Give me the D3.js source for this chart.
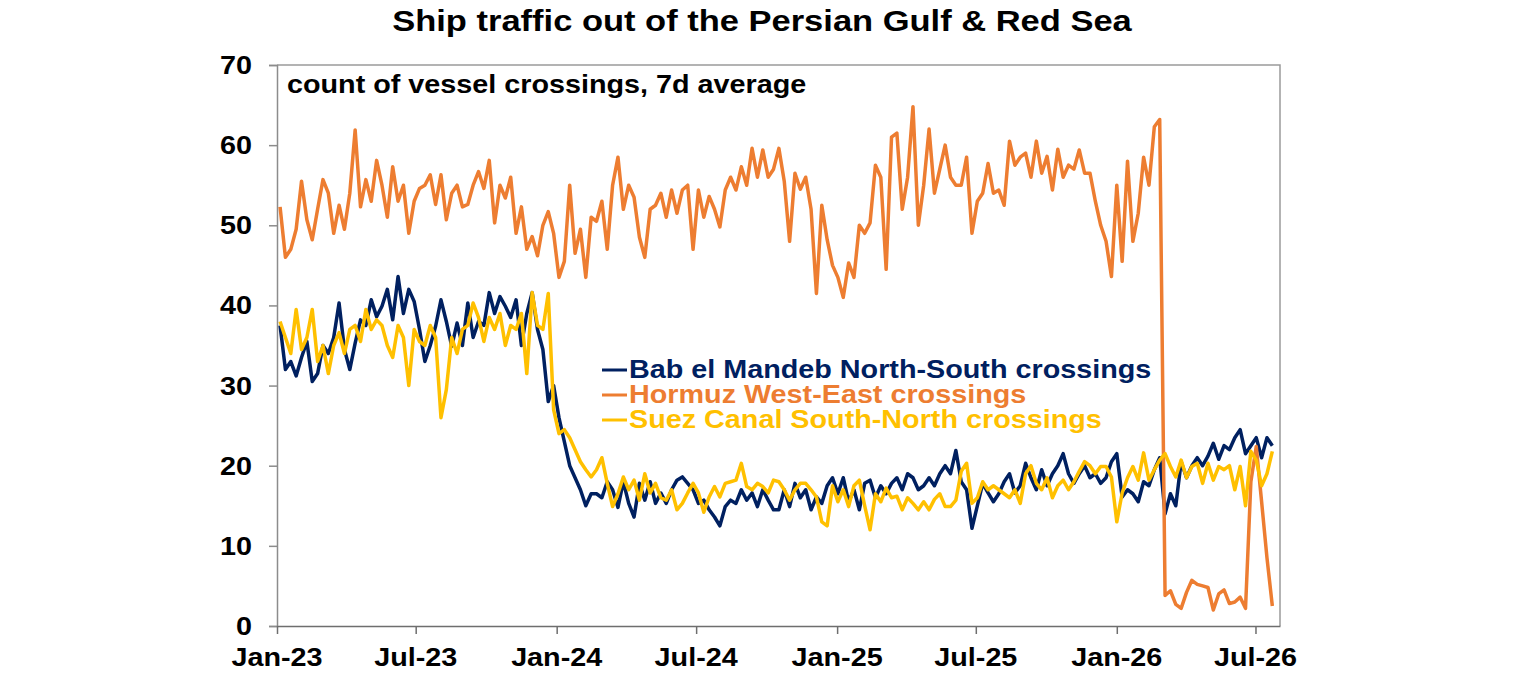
<!DOCTYPE html>
<html>
<head>
<meta charset="utf-8">
<script src="https://cdn.jsdelivr.net/npm/d3@7"></script>
<style>
  body { margin: 0; background: #fff; }
  text { font-family: "Liberation Sans", Arial, sans-serif; font-weight: bold; }
</style>
</head>
<body>
<div id="chart"></div>
<script>
// weekly readings (7d average), first point 5 Jan 2023
var startDate = "2023-01-05";
var stepDays = 7;

var babElMandeb = [
  37.5, 32, 33, 31.2, 33.5, 35.5, 30.5, 31.5, 35, 34,
  36, 40.3, 34.5, 32, 35.3, 38.2, 37.5, 40.7, 38.6, 39.9,
  42, 38.2, 43.6, 39, 42, 40.5, 37, 33, 35, 37.4,
  40.7, 38, 34.9, 37.8, 35, 40.3, 36, 38, 37.5, 41.6,
  39, 41.1, 39.9, 38.5, 40.7, 35, 39, 41.6, 37, 34.5, 28, 30, 26,
  23, 20, 18.5, 17, 15, 16.5, 16.5, 16, 18, 17,
  14.8, 18, 15.3, 13.6, 17.8, 15.7, 18, 15.3, 16.6, 15.3,
  17, 18.2, 18.6, 17.8, 17, 15.3, 15.7, 14.5, 13.6, 12.5,
  14.9, 15.7, 15.3, 17, 15.7, 16.6, 14.9, 17, 15.7, 14.5,
  14.5, 17, 14.9, 17.8, 16, 17, 14.5, 16.1, 15.3, 17.5,
  18.5, 16.5, 18.5, 15.5, 17, 14.5, 17.8, 18.2, 16, 17.5,
  16.5, 17.8, 18.5, 17, 19, 18.5, 17, 17.5, 18.5, 17.5,
  19, 20, 19, 21.9, 18, 17, 12.2, 15, 17.8, 16.6,
  15.5, 16.5, 18, 19, 16.6, 17.5, 20.3, 18.5, 17, 19.5,
  17.5, 19, 20, 21.5, 19, 17.8, 19, 20,
  18.5, 19, 17.8, 18.5, 20.5, 21.5, 16.1, 17, 16.5, 15.5,
  18, 17.5, 19.5, 21, 14, 16.5, 15, 20.5, 18.5, 20,
  21, 20, 21.2, 22.8, 20.8, 22.5, 22, 23.5, 24.5, 21.5,
  22.5, 23.5, 21, 23.5, 22.5
];

var hormuz = [
  52.3, 46, 47, 49.5, 55.5, 50.7, 48.2, 52, 55.7, 54,
  49, 52.5, 49.5, 54, 61.9, 52.3, 55.7, 53, 58.1, 55,
  51, 57.3, 53, 55, 49, 53, 54.6, 55, 56.3, 52.6,
  56.3, 50.7, 54, 55, 52.3, 52.6, 55, 56.7, 54.6, 58.1,
  50.3, 55, 53.4, 56, 49, 52.3, 47, 48.6, 46.2, 50,
  51.7, 49, 43.5, 45.5, 55, 46.5, 49.5, 43.5, 51, 50.5,
  53, 47, 55, 58.5, 52, 55, 53.5, 48.5, 46, 52,
  52.5, 54, 51, 54.4, 51.5, 54.4, 55, 47, 54.4, 51,
  53.6, 52, 49.8, 54.4, 56, 54.4, 57.3, 55, 59.6, 56,
  59.4, 56, 57, 59.6, 55.5, 48, 56.5, 54.5, 56, 52,
  41.5, 52.5, 48.2, 45, 43.5, 41, 45.3, 43.5, 50, 49,
  50.3, 57.5, 56, 44.5, 61, 61.5, 52, 56, 64.8, 50,
  55, 62, 54, 57, 60, 56, 55, 55, 58.5, 49,
  53, 54, 57.7, 54, 54.4, 52.5, 60.5, 57.5, 58.5, 59,
  56, 60.5, 56.5, 58.6, 54.4, 59.5, 56, 57.5, 57, 59.4,
  56.5, 56.5, 53, 50, 48, 43.6, 55, 45.5, 58, 48,
  51.5, 58.5, 55, 62.3, 63.2, 3.8, 4.4, 2.7, 2.2, 4.2,
  5.7, 5.2, 5, 4.8, 2, 4, 4.5, 2.8, 3, 3.6,
  2.2, 18, 22.4, 15.5, 8.5, 2.5
];

var suez = [
  38, 36, 34, 39.5, 34.5, 36, 39.5, 33, 35, 31.5,
  35, 36.6, 34, 37, 37.5, 35.5, 39.5, 37, 38.2, 37.5,
  35, 33.5, 37.5, 36, 30, 37, 35.5, 35, 37.5, 36,
  26, 29.5, 36, 34, 37, 37.5, 40.3, 38.5, 35.5, 38.5,
  37, 39, 35, 37.5, 37, 39, 31.5, 41.6, 37.5, 37,
  41.5, 27, 24, 24.5, 23.5, 22, 20.5, 19.5, 18.6, 19.5,
  21, 17.8, 14.9, 16.5, 18.6, 17, 18.2, 15.7, 19, 16.6,
  17.8, 16, 15.7, 17, 14.5, 15.3, 16.6, 17.8, 16.6, 14.2,
  16.1, 17.4, 16.1, 17.8, 18, 18.2, 20.3, 17.4, 17, 17.8,
  17.4, 16.6, 18.2, 18, 17, 15.7, 17, 17.8, 17.8, 17,
  16.1, 13, 12.5, 17.5, 15.5, 17, 14.9, 17.5, 18.2, 15,
  12, 16.5, 15.5, 17.2, 16, 16.2, 14.5, 16, 15.3, 14.5,
  15.5, 14.5, 15.8, 16.5, 14.9, 14.9, 15.7, 19.3, 20.3, 15.3,
  16, 18, 17, 17.5, 17, 16.5, 16, 17, 15.3, 19,
  20, 17.8, 17, 18.5, 16, 17.5, 18.2, 17, 18, 19.3,
  20.5, 20, 19, 19.9, 19.9, 18.6, 13, 16.6, 18.5, 19.9,
  18.2, 21.6, 18.2, 19.5, 20.7, 21.5, 19.9, 18.6, 20.7, 18.5,
  19.9, 20.3, 17.8, 20.3, 18.2, 19.9, 19.5, 20, 17, 19.9,
  15, 21.8, 20.7, 17.5, 19, 21.8
];

var seriesNames = [
  "Bab el Mandeb North-South crossings",
  "Hormuz West-East crossings",
  "Suez Canal South-North crossings"
];
var seriesColors = ["#002060", "#ED7D31", "#FFC000"];

var xTickLabels = ["Jan-23", "Jul-23", "Jan-24", "Jul-24", "Jan-25", "Jul-25", "Jan-26", "Jul-26"];
var yTicks = [0, 10, 20, 30, 40, 50, 60, 70];

var svgWidth = 1536;
var svgHeight = 680;
var margin = { top: 65, right: 256, bottom: 54, left: 277 };
var width = svgWidth - margin.left - margin.right;
var height = svgHeight - margin.top - margin.bottom;
var stretch = 1.15; // text in the picture is a bit wide

var svg = d3.select("#chart")
  .append("svg")
  .attr("width", svgWidth)
  .attr("height", svgHeight);

function label(parent, x, y, str, size, anchor, color) {
  return parent.append("text")
    .attr("transform", `translate(${x}, ${y}) scale(${stretch}, 1)`)
    .attr("text-anchor", anchor)
    .attr("font-size", size)
    .attr("fill", color || "#000")
    .text(str);
}

var chartGroup = svg.append("g")
  .attr("transform", `translate(${margin.left}, ${margin.top})`);

// scales
var parseDay = d3.utcParse("%Y-%m-%d");
var parseTick = d3.utcParse("%b-%y");
var t0 = parseDay(startDate);

var xScale = d3.scaleUtc()
  .domain([Date.UTC(2023, 0, 1), Date.UTC(2026, 7, 2)])
  .range([0, width]);

var yScale = d3.scaleLinear()
  .domain([0, 70])
  .range([height, 0]);

// plot frame (top + right)
chartGroup.append("path")
  .attr("d", `M0,0H${width}V${height}`)
  .attr("fill", "none")
  .attr("stroke", "#9a9a9a")
  .attr("stroke-width", 1.5);

// axes
var leftAxis = d3.axisLeft(yScale)
  .tickValues(yTicks)
  .tickSize(8)
  .tickFormat("");

var bottomAxis = d3.axisBottom(xScale)
  .tickValues(xTickLabels.map(parseTick))
  .tickSize(8)
  .tickSizeOuter(0)
  .tickFormat("");

var yAxisG = chartGroup.append("g").call(leftAxis);
yAxisG.selectAll("path, line").attr("stroke", "#8c8c8c").attr("stroke-width", 1.5);

var xAxisG = chartGroup.append("g")
  .attr("transform", `translate(0, ${height})`)
  .call(bottomAxis);
xAxisG.selectAll("path, line").attr("stroke", "#6e6e6e").attr("stroke-width", 1.5);

yTicks.forEach(function (v) {
  label(chartGroup, -25, yScale(v) + 9, v, 25, "end");
});

xTickLabels.forEach(function (s) {
  label(chartGroup, xScale(parseTick(s)), height + 40, s, 25, "middle");
});

// lines
var allSeries = [babElMandeb, hormuz, suez];

var line = d3.line()
  .x(function (d, i) { return xScale(d3.utcDay.offset(t0, i * stepDays)); })
  .y(function (d) { return yScale(d); });

chartGroup.selectAll(".series")
  .data(allSeries)
  .enter()
  .append("path")
  .attr("class", "series")
  .attr("d", function (d) { return line(d); })
  .attr("fill", "none")
  .attr("stroke", function (d, i) { return seriesColors[i]; })
  .attr("stroke-width", 3.5)
  .attr("stroke-linejoin", "round");

// legend
var legend = chartGroup.append("g")
  .attr("transform", "translate(325, 305)");

seriesNames.forEach(function (name, i) {
  legend.append("line")
    .attr("x1", 0)
    .attr("x2", 25)
    .attr("y1", i * 25)
    .attr("y2", i * 25)
    .attr("stroke", seriesColors[i])
    .attr("stroke-width", 3);
  label(legend, 27, i * 25 + 8, name, 25, "start", seriesColors[i]);
});

// titles
label(chartGroup, 10, 28, "count of vessel crossings, 7d average", 25, "start");
label(svg, 762, 31, "Ship traffic out of the Persian Gulf & Red Sea", 30, "middle");
</script>
</body>
</html>
